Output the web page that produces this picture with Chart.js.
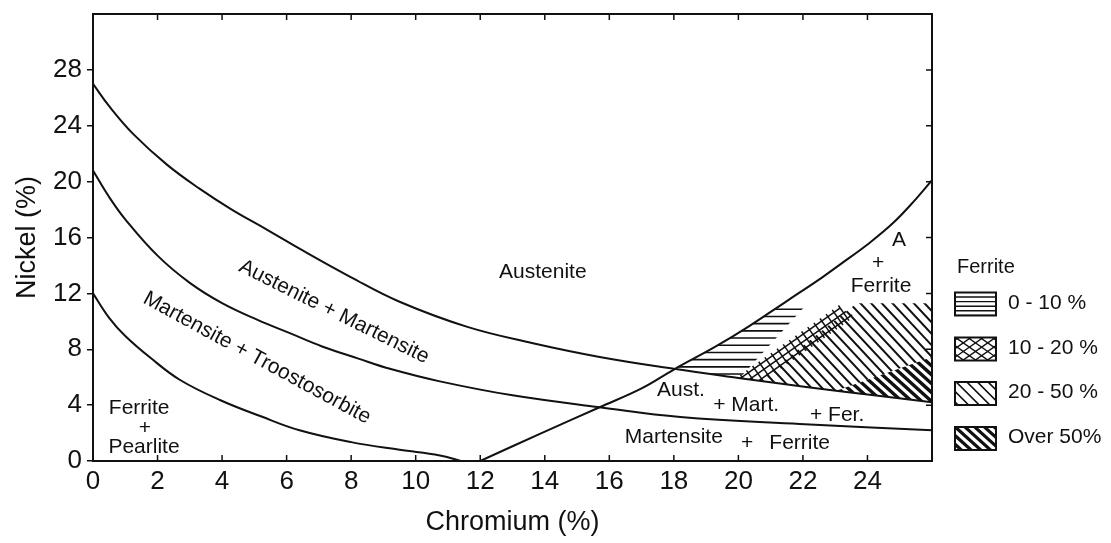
<!DOCTYPE html>
<html>
<head>
<meta charset="utf-8">
<script src="https://cdn.jsdelivr.net/npm/chart.js@4.4.1/dist/chart.umd.min.js"></script>
<style>
  html, body { margin: 0; padding: 0; background: #fff; }
  #wrap { width: 1111px; height: 543px; }
</style>
</head>
<body>
<div id="wrap"><canvas id="c" width="1111" height="543"></canvas></div>
<script>
// Phase boundaries of the diagram, as [Cr %, Ni %] pairs
const austeniteLine = [[0,27],[0.5,25.4],[1.25,23.4],[2.3,21.2],[3.3,19.5],[4.3,18.0],[5.4,16.55],[6.4,15.2],[8,13.15],[9.5,11.4],[11.6,9.6],[13.6,8.45],[15.7,7.45],[18,6.6],[20,5.95],[22.1,5.3],[24.2,4.7],[26,4.2]];
const martensiteLine = [[0,20.8],[0.5,18.9],[1,17.3],[2,14.7],[3,12.75],[4,11.3],[5.1,10.1],[6.1,9.15],[7.1,8.2],[8.2,7.35],[9.2,6.6],[10.75,5.7],[13,4.7],[15.7,3.85],[18.2,3.15],[21.9,2.65],[26,2.2]];
const pearliteLine = [[0,12],[0.5,10.25],[1,8.95],[1.8,7.35],[2.7,5.8],[3.95,4.35],[5.2,3.2],[6.4,2.2],[8,1.35],[9.5,0.8],[10.75,0.4],[11.4,0]];
const ferriteLine = [[12,0],[13.9,2],[15.7,3.85],[17,5.2],[18,6.55],[19.3,8.2],[20.3,9.6],[21.5,11.45],[22.6,13.15],[23.2,14.15],[24,15.5],[24.8,17.05],[25.5,18.75],[26,20.1]];

// Axis tick labels
const crTicks = [0,2,4,6,8,10,12,14,16,18,20,22,24];
const niTicks = [0,4,8,12,16,20,24,28];

// Ferrite content bands (legend entries)
const ferriteBands = ['0 - 10 %', '10 - 20 %', '20 - 50 %', 'Over 50%'];
// Upper Ni limit of the hatched ferrite zone
const hatchTopNi = 11.3;
// Band dividers inside the A + F zone, as pairs of [Cr, Ni] points
const band10Edge = [[20.05, 5.95], [22.15, 11.3]];
const band20Left = [[20.05, 5.9], [23.15, 10.95]];
const band20Right = [[20.6, 5.7], [23.7, 11.35]];
const band50Edge = [[23.0, 5.0], [26, 7.45]];

const FONT = "'Liberation Sans', Arial, Helvetica, sans-serif";
const INK = '#111';

const regionLabels = [
  { text: 'Austenite', cr: 13.94, ni: 13.53 },
  { text: 'Austenite + Martensite', cr: 7.47, ni: 10.67, angle: 26.4 },
  { text: 'Martensite + Troostosorbite', cr: 5.08, ni: 7.37, angle: 28.5 },
  { text: 'Ferrite', cr: 1.43, ni: 3.79 },
  { text: '+', cr: 1.61, ni: 2.36 },
  { text: 'Pearlite', cr: 1.58, ni: 1.0 },
  { text: 'A', cr: 24.98, ni: 15.82 },
  { text: '+', cr: 24.33, ni: 14.17 },
  { text: 'Ferrite', cr: 24.42, ni: 12.53 },
  { text: 'Aust.', cr: 18.22, ni: 5.08 },
  { text: '+ Mart.', cr: 20.24, ni: 4.01 },
  { text: '+ Fer.', cr: 23.06, ni: 3.29 },
  { text: 'Martensite', cr: 18.0, ni: 1.72 },
  { text: '+', cr: 20.27, ni: 1.29 },
  { text: 'Ferrite', cr: 21.9, ni: 1.29 }
];

const toXY = arr => arr.map(([x, y]) => ({ x, y }));

// y pixel of a drawn boundary curve at a given Cr value
function curvePixelY(chart, idx, cr, raw) {
  const xs = chart.scales.x, ys = chart.scales.y;
  const px = xs.getPixelForValue(cr);
  const meta = chart.getDatasetMeta(idx);
  let p = meta.dataset ? meta.dataset.interpolate({ x: px }, 'x') : null;
  if (Array.isArray(p)) p = p[0];
  if (p && isFinite(p.y)) return p.y;
  for (let i = 0; i < raw.length - 1; i++) {
    const [x0, y0] = raw[i], [x1, y1] = raw[i + 1];
    if (cr >= x0 && cr <= x1) return ys.getPixelForValue(y0 + (y1 - y0) * (cr - x0) / (x1 - x0));
  }
  return ys.getPixelForValue(raw[raw.length - 1][1]);
}

function px(chart, pt) {
  return { x: chart.scales.x.getPixelForValue(pt[0]), y: chart.scales.y.getPixelForValue(pt[1]) };
}

// clip to one side of the line through a and b (side = +1 / -1)
function clipHalfPlane(ctx, a, b, side) {
  const L = 3000;
  let dx = b.x - a.x, dy = b.y - a.y;
  const len = Math.hypot(dx, dy); dx /= len; dy /= len;
  const nx = -dy * side, ny = dx * side;
  ctx.beginPath();
  ctx.moveTo(a.x - dx * L, a.y - dy * L);
  ctx.lineTo(b.x + dx * L, b.y + dy * L);
  ctx.lineTo(b.x + dx * L + nx * L, b.y + dy * L + ny * L);
  ctx.lineTo(a.x - dx * L + nx * L, a.y - dy * L + ny * L);
  ctx.closePath();
  ctx.clip();
}

function strokeParallel(ctx, angleDeg, spacing, width, box) {
  const a = angleDeg * Math.PI / 180;
  const dx = Math.cos(a), dy = Math.sin(a);
  const nx = -dy, ny = dx;
  const cx = (box.left + box.right) / 2, cy = (box.top + box.bottom) / 2;
  const L = Math.hypot(box.right - box.left, box.bottom - box.top);
  ctx.lineWidth = width;
  ctx.beginPath();
  for (let s = -L; s <= L; s += spacing) {
    const ox = cx + nx * s, oy = cy + ny * s;
    ctx.moveTo(ox - dx * L, oy - dy * L);
    ctx.lineTo(ox + dx * L, oy + dy * L);
  }
  ctx.stroke();
}

// Region between the ferrite line and the austenite line, below hatchTopNi
function clipFerriteZone(chart, ctx) {
  const xs = chart.scales.x, ys = chart.scales.y;
  const area = chart.chartArea;
  // find where the two curves cross
  let lo = 16.5, hi = 19.5;
  const diff = cr => curvePixelY(chart, 0, cr, austeniteLine) - curvePixelY(chart, 3, cr, ferriteLine);
  for (let i = 0; i < 40; i++) {
    const mid = (lo + hi) / 2;
    if (diff(mid) > 0) hi = mid; else lo = mid;
  }
  const crI = (lo + hi) / 2;
  const crEnd = xs.max;
  ctx.beginPath();
  const step = 0.04;
  let first = true;
  for (let cr = crI; cr <= crEnd - 0.01; cr += step) {
    const x = xs.getPixelForValue(cr), y = curvePixelY(chart, 3, cr, ferriteLine);
    if (first) { ctx.moveTo(x, y); first = false; } else ctx.lineTo(x, y);
  }
  ctx.lineTo(area.right + 2, curvePixelY(chart, 3, crEnd - 0.01, ferriteLine));
  ctx.lineTo(area.right + 2, curvePixelY(chart, 0, crEnd - 0.01, austeniteLine));
  for (let cr = crEnd - 0.01; cr >= crI; cr -= step) {
    ctx.lineTo(xs.getPixelForValue(cr), curvePixelY(chart, 0, cr, austeniteLine));
  }
  ctx.closePath();
  ctx.clip();
  const yTop = ys.getPixelForValue(hatchTopNi);
  ctx.beginPath();
  ctx.rect(area.left, yTop, area.right - area.left, area.bottom - yTop);
  ctx.clip();
}

function drawHatching(chart) {
  const ctx = chart.ctx;
  const area = chart.chartArea;
  ctx.save();
  ctx.strokeStyle = INK;
  ctx.lineCap = 'butt';

  // 0 - 10 %: horizontal lines
  ctx.save();
  clipFerriteZone(chart, ctx);
  clipHalfPlane(ctx, px(chart, band10Edge[0]), px(chart, band10Edge[1]), -1);
  strokeParallel(ctx, 0, 7.2, 1.6, area);
  ctx.restore();

  // 10 - 20 %: ladder-like cross hatching along a diagonal band
  ctx.save();
  clipFerriteZone(chart, ctx);
  const B = px(chart, band20Left[0]), T = px(chart, band20Left[1]);
  const R0 = px(chart, band20Right[0]);
  let dx = T.x - B.x, dy = T.y - B.y;
  const len = Math.hypot(dx, dy); dx /= len; dy /= len;
  let nx = -dy, ny = dx;
  if ((R0.x - B.x) * nx + (R0.y - B.y) * ny < 0) { nx = -nx; ny = -ny; }
  const w = (R0.x - B.x) * nx + (R0.y - B.y) * ny;
  ctx.lineWidth = 1.5;
  ctx.beginPath();
  [0, 0.5, 1].forEach(k => {
    ctx.moveTo(B.x + nx * w * k - dx * 20, B.y + ny * w * k - dy * 20);
    ctx.lineTo(T.x + nx * w * k + dx * (6 * k), T.y + ny * w * k + dy * (6 * k));
  });
  for (let s = -20; s <= len + 2; s += 7.5) {
    ctx.moveTo(B.x + dx * s - nx * 3, B.y + dy * s - ny * 3);
    ctx.lineTo(B.x + dx * s + nx * (w + 3), B.y + dy * s + ny * (w + 3));
  }
  ctx.stroke();
  ctx.restore();

  // 20 - 50 %: thin diagonal lines
  ctx.save();
  clipFerriteZone(chart, ctx);
  clipHalfPlane(ctx, px(chart, band20Right[0]), px(chart, band20Right[1]), 1);
  clipHalfPlane(ctx, px(chart, band50Edge[0]), px(chart, band50Edge[1]), -1);
  strokeParallel(ctx, 47, 7.8, 2, area);
  ctx.restore();

  // Over 50 %: heavy diagonal lines
  ctx.save();
  clipFerriteZone(chart, ctx);
  clipHalfPlane(ctx, px(chart, band50Edge[0]), px(chart, band50Edge[1]), 1);
  strokeParallel(ctx, 42, 6.6, 3.4, area);
  ctx.restore();

  ctx.restore();
}

function drawLegendSwatch(ctx, kind, x, y, w, h) {
  ctx.save();
  ctx.beginPath();
  ctx.rect(x, y, w, h);
  ctx.clip();
  ctx.strokeStyle = INK;
  const box = { left: x, right: x + w, top: y, bottom: y + h };
  if (kind === 0) {
    ctx.lineWidth = 1.4;
    ctx.beginPath();
    for (let yy = y + 4.5; yy < y + h; yy += 4.6) { ctx.moveTo(x, yy); ctx.lineTo(x + w, yy); }
    ctx.stroke();
  } else if (kind === 1) {
    strokeParallel(ctx, 35, 7, 1.4, box);
    strokeParallel(ctx, -35, 7, 1.4, box);
  } else if (kind === 2) {
    strokeParallel(ctx, 45, 7.5, 1.6, box);
  } else {
    strokeParallel(ctx, 42, 6.5, 3.2, box);
  }
  ctx.restore();
  ctx.lineWidth = 2;
  ctx.strokeStyle = INK;
  ctx.strokeRect(x, y, w, h);
}

const diagramPlugin = {
  id: 'diagram',
  beforeDatasetsDraw(chart) {
    drawHatching(chart);
  },
  afterDatasetsDraw(chart) {
    const ctx = chart.ctx;
    const area = chart.chartArea;
    const xs = chart.scales.x, ys = chart.scales.y;
    ctx.save();

    // frame
    ctx.strokeStyle = INK;
    ctx.lineWidth = 2;
    ctx.strokeRect(area.left, area.top, area.right - area.left, area.bottom - area.top);

    // inward tick marks on bottom, top and right edges
    ctx.lineWidth = 1.5;
    ctx.beginPath();
    xs.ticks.forEach(t => {
      const x = xs.getPixelForValue(t.value);
      if (x <= area.left + 1) return;
      ctx.moveTo(x, area.bottom); ctx.lineTo(x, area.bottom - 6);
      ctx.moveTo(x, area.top); ctx.lineTo(x, area.top + 6);
    });
    ys.ticks.forEach(t => {
      const y = ys.getPixelForValue(t.value);
      if (y >= area.bottom - 1) return;
      ctx.moveTo(area.right, y); ctx.lineTo(area.right - 6, y);
    });
    ctx.stroke();

    // phase labels
    ctx.fillStyle = INK;
    ctx.font = '21px ' + FONT;
    ctx.textAlign = 'center';
    ctx.textBaseline = 'middle';
    regionLabels.forEach(l => {
      const x = xs.getPixelForValue(l.cr), y = ys.getPixelForValue(l.ni);
      ctx.save();
      ctx.translate(x, y);
      if (l.angle) ctx.rotate(l.angle * Math.PI / 180);
      ctx.fillText(l.text, 0, 0);
      ctx.restore();
    });

    // ferrite legend
    const lx = area.right + 23;
    ctx.textAlign = 'left';
    ctx.font = '20px ' + FONT;
    ctx.fillText('Ferrite', lx + 2, 267);
    const rows = [304, 349, 393.5, 438.5];
    ferriteBands.forEach((label, i) => {
      drawLegendSwatch(ctx, i, lx, rows[i] - 11.5, 41, 23);
      ctx.fillStyle = INK;
      ctx.font = '21px ' + FONT;
      ctx.textAlign = 'left';
      ctx.textBaseline = 'middle';
      ctx.fillText(label, lx + 53, rows[i] - 1);
    });
    ctx.restore();
  }
};

Chart.defaults.font.family = FONT;
Chart.defaults.color = INK;

new Chart(document.getElementById('c'), {
  type: 'scatter',
  data: {
    datasets: [
      { label: 'Austenite limit', data: toXY(austeniteLine) },
      { label: 'Martensite limit', data: toXY(martensiteLine) },
      { label: 'Pearlite limit', data: toXY(pearliteLine) },
      { label: 'Ferrite limit', data: toXY(ferriteLine) }
    ]
  },
  options: {
    responsive: false,
    animation: false,
    events: [],
    layout: { padding: { top: 14, right: 179, bottom: 0, left: 0 } },
    plugins: { legend: { display: false }, tooltip: { enabled: false } },
    datasets: { scatter: { showLine: true } },
    elements: {
      point: { radius: 0, hoverRadius: 0 },
      line: { borderColor: INK, borderWidth: 2, tension: 0.4, fill: false }
    },
    scales: {
      x: {
        type: 'linear', min: 0, max: 26,
        afterBuildTicks: s => { s.ticks = crTicks.map(v => ({ value: v })); },
        afterFit: s => { s.height = 82; s.paddingLeft = 0; s.paddingRight = 0; },
        grid: { display: false, drawTicks: false },
        border: { display: false },
        ticks: { font: { size: 26 }, color: INK, padding: 5, maxRotation: 0, autoSkip: false },
        title: { display: true, text: 'Chromium (%)', font: { size: 27 }, color: INK, padding: { top: 0, bottom: 4 } }
      },
      y: {
        type: 'linear', min: 0, max: 32,
        afterBuildTicks: s => { s.ticks = niTicks.map(v => ({ value: v })); },
        afterFit: s => { s.width = 93; s.paddingTop = 0; s.paddingBottom = 0; },
        grid: { display: true, drawOnChartArea: false, drawTicks: true, tickLength: 6, color: INK, lineWidth: 1.5 },
        border: { display: false },
        ticks: { font: { size: 26 }, color: INK, padding: 5, autoSkip: false },
        title: { display: true, text: 'Nickel (%)', font: { size: 27 }, color: INK, padding: { top: 11, bottom: 0 } }
      }
    }
  },
  plugins: [diagramPlugin]
});
</script>
</body>
</html>
